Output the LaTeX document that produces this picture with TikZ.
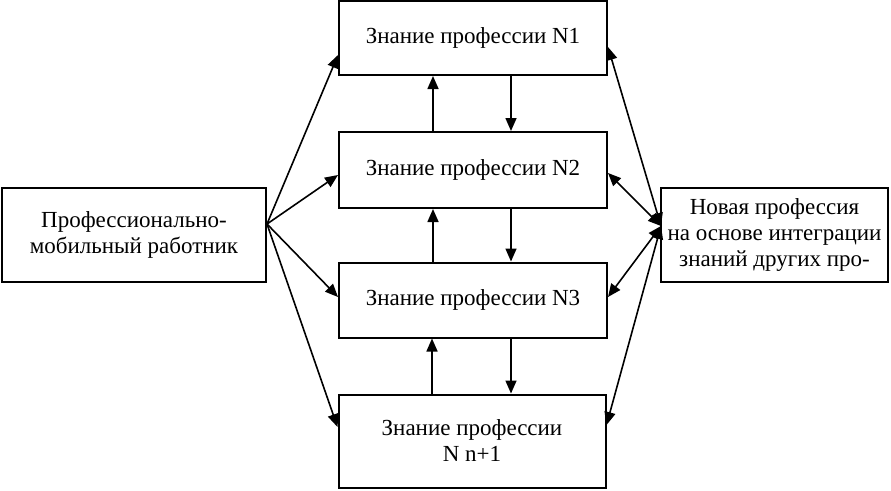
\documentclass[tikz,border=0pt]{standalone}
\usepackage{fontspec}
\setmainfont{Liberation Serif}
\newfontfamily\boxfont{Liberation Serif}
\usetikzlibrary{arrows.meta,positioning}

\begin{document}
\begin{tikzpicture}[x=1pt,y=-1pt,
	box/.style={draw, line width=2pt, align=center, inner sep=0pt, font=\boxfont\fontsize{23}{26}\selectfont},
	link/.style={line width=1.6pt, -{Triangle[length=13pt,width=11pt]}},
	bilink/.style={line width=1.6pt, {Triangle[length=13pt,width=11pt]}-{Triangle[length=13pt,width=11pt]}}]
				\useasboundingbox (0,0) rectangle (891,490);
				
				\node [box, minimum width=264pt, minimum height=94pt] (worker) at (134,235) {Профессионально-\\мобильный работник};
				\node [box, minimum width=268pt, minimum height=74pt] (p1) at (473,38) {Знание профессии N1};
				\node [box, minimum width=268pt, minimum height=76pt] (p2) at (473,170) {Знание профессии N2};
				\node [box, minimum width=268pt, minimum height=75pt] (p3) at (473,300) {Знание профессии N3};
				\node [box, minimum width=267pt, minimum height=93pt] (pn) at (472,441) {Знание профессии\\N n+1};
				\node [box, minimum width=227pt, minimum height=94pt] (new) at (774.5,235) {Новая профессия\\на основе интеграции\\знаний других про-};
				
				% % % % % % % % % % % % % % % % % % % % % % % % % %
				
				\coordinate (wout) at (267,224);
				\coordinate (nin) at (661,226);
				
				\draw [link] (wout) -- (p1.west |- 0,55);
				\draw [link] (wout) -- (p2.west |- 0,175);
				\draw [link] (wout) -- (p3.west |- 0,297);
				\draw [link] (wout) -- (pn.west |- 0,427);
				
				\draw [bilink] (p1.east |- 0,47) -- (nin);
				\draw [bilink] (p2.east |- 0,173) -- (nin);
				\draw [bilink] (p3.east |- 0,297) -- (nin);
				\draw [bilink] (pn.east |- 0,425) -- (nin);
				
				\draw [link] (p2.north -| 433,0) -- (p1.south -| 433,0);
				\draw [link] (p1.south -| 511,0) -- (p2.north -| 511,0);
				\draw [link] (p3.north -| 433,0) -- (p2.south -| 433,0);
				\draw [link] (p2.south -| 511,0) -- (p3.north -| 511,0);
				\draw [link] (pn.north -| 432,0) -- (p3.south -| 432,0);
				\draw [link] (p3.south -| 511,0) -- (pn.north -| 511,0);
\end{tikzpicture}
\end{document}
